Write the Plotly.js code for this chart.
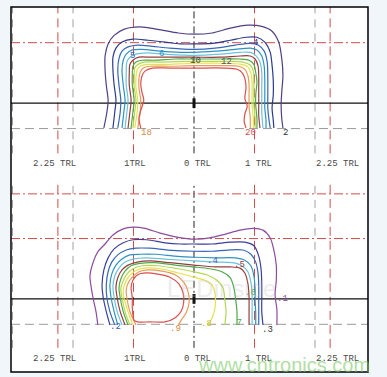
<!DOCTYPE html>
<html><head><meta charset="utf-8">
<script src="https://cdn.plot.ly/plotly-3.0.1.min.js"></script>
<style>html,body{margin:0;padding:0;background:#f1f6fb;}#chart{width:387px;height:377px;}</style>
</head><body><div id="chart"></div>
<script>
// Units: x in TRL (lateral), y in TRL relative to the solid reference line of each panel
const tickLabels = ['2.25 TRL','1TRL','0 TRL','1 TRL','2.25 TRL'];
const tickLabelX = [-2.31,-0.98,0.06,1.07,2.37];
const gridRedX = [-2.25,-1,1,2.25];
const gridGrayX = [-3,-2,2];
const gridCenterX = [0];
const topRedY = [1];
const botRedY = [1.74, 1];
const refY = [0];
const edgeY = [-0.42];

// ---- top panel isolux lines (levels) ----
const topLevels = ['2','4','5','6','8','10','12','14','16','18','20'];
const top1x = [-1.49,-1.44,-1.42,-1.45,-1.47,-1.47,-1.42,-1.32,-1.16,-0.89,-0.60,-0.26,0,0.30,0.60,0.89,1.12,1.29,1.40,1.45,1.47,1.45,1.44,1.45,1.47];
const top1y = [-0.41,-0.15,0.05,0.30,0.55,0.78,0.98,1.12,1.22,1.26,1.22,1.16,1.14,1.16,1.24,1.29,1.27,1.19,1.01,0.74,0.46,0.18,-0.03,-0.25,-0.41];
const top2x = [-1.34,-1.31,-1.29,-1.32,-1.34,-1.34,-1.29,-1.19,-1.01,-0.76,-0.48,-0.23,0,0.30,0.60,0.86,1.04,1.17,1.26,1.29,1.31,1.31,1.29,1.31,1.32];
const top2y = [-0.41,-0.15,0.05,0.30,0.55,0.76,0.91,1.01,1.06,1.04,1.01,0.98,0.98,0.99,1.04,1.09,1.09,1.01,0.84,0.63,0.38,0.13,-0.08,-0.28,-0.41];
const top3x = [-1.26,-1.22,-1.21,-1.24,-1.26,-1.24,-1.19,-1.09,-0.93,-0.69,-0.40,0,0.35,0.68,0.93,1.06,1.16,1.21,1.22,1.22,1.22,1.24,1.26];
const top3y = [-0.41,-0.15,0.05,0.30,0.55,0.74,0.86,0.93,0.96,0.94,0.91,0.89,0.91,0.96,0.99,0.96,0.86,0.68,0.41,0.13,-0.08,-0.28,-0.41];
const top4x = [-1.19,-1.16,-1.14,-1.17,-1.19,-1.17,-1.12,-1.02,-0.86,-0.56,-0.23,0,0.35,0.68,0.93,1.04,1.12,1.16,1.17,1.17,1.17,1.19,1.19];
const top4y = [-0.41,-0.15,0.05,0.30,0.55,0.71,0.81,0.88,0.89,0.86,0.84,0.84,0.86,0.89,0.91,0.88,0.78,0.61,0.38,0.13,-0.08,-0.28,-0.41];
const top5x = [-1.14,-1.11,-1.09,-1.12,-1.12,-1.11,-1.06,-0.96,-0.78,-0.48,0,0.43,0.76,0.93,1.02,1.09,1.12,1.12,1.12,1.12,1.14];
const top5y = [-0.41,-0.15,0.05,0.30,0.51,0.68,0.76,0.81,0.83,0.81,0.79,0.81,0.84,0.84,0.79,0.68,0.51,0.25,0.05,-0.15,-0.41];
const top6x = [-1.09,-1.06,-1.04,-1.07,-1.07,-1.06,-1.01,-0.91,-0.73,-0.40,0,0.43,0.76,0.93,1.01,1.06,1.07,1.07,1.07,1.07,1.09];
const top6y = [-0.41,-0.15,0.05,0.30,0.50,0.64,0.71,0.76,0.76,0.76,0.76,0.76,0.78,0.78,0.73,0.61,0.45,0.21,0,-0.20,-0.41];
const top7x = [-1.04,-1.01,-0.99,-1.02,-1.02,-1.01,-0.96,-0.86,-0.64,-0.31,0,0.43,0.76,0.91,0.99,1.02,1.04,1.02,1.02,1.04,1.04];
const top7y = [-0.41,-0.15,0.05,0.30,0.48,0.61,0.68,0.71,0.71,0.73,0.73,0.73,0.73,0.71,0.64,0.51,0.35,0.13,-0.03,-0.25,-0.41];
const top8x = [-1.01,-0.98,-0.96,-0.99,-0.99,-0.98,-0.93,-0.83,-0.56,0,0.51,0.81,0.93,0.98,0.99,0.99,0.99,1.01,1.01];
const top8y = [-0.41,-0.15,0.05,0.28,0.45,0.58,0.64,0.68,0.68,0.69,0.69,0.68,0.63,0.53,0.35,0.13,-0.03,-0.25,-0.41];
const top9x = [-0.98,-0.94,-0.93,-0.96,-0.96,-0.94,-0.89,-0.78,-0.48,0,0.51,0.78,0.89,0.94,0.96,0.96,0.96,0.98,0.98];
const top9y = [-0.41,-0.15,0.05,0.26,0.43,0.55,0.61,0.64,0.64,0.66,0.66,0.64,0.60,0.50,0.33,0.13,-0.03,-0.25,-0.41];
const top10x = [-0.93,-0.89,-0.88,-0.91,-0.91,-0.89,-0.84,-0.73,-0.40,0,0.51,0.74,0.84,0.89,0.91,0.91,0.91,0.93,0.93];
const top10y = [-0.41,-0.15,0.05,0.25,0.41,0.51,0.58,0.61,0.61,0.62,0.62,0.61,0.56,0.46,0.30,0.12,-0.05,-0.25,-0.41];
const top11x = [-0.88,-0.91,-0.88,-0.83,-0.86,-0.88,-0.86,-0.81,-0.69,-0.40,0,0.51,0.71,0.79,0.84,0.86,0.84,0.88,0.84,0.83,0.86];
const top11y = [-0.41,-0.25,-0.12,0.05,0.18,0.31,0.45,0.53,0.58,0.58,0.58,0.58,0.56,0.51,0.41,0.25,0.08,-0.05,-0.18,-0.31,-0.41];

// ---- bottom panel isolux lines ----
const botLevels = ['.1','.2','.3','.4','.5','.6','.7','.75','.8','.9','1'];
const bot1x = [-1.59,-1.62,-1.67,-1.70,-1.72,-1.67,-1.59,-1.47,-1.34,-1.17,-1.01,-0.81,-0.56,-0.26,0,0.26,0.51,0.76,0.98,1.14,1.26,1.32,1.36,1.36,1.34,1.37,1.37];
const bot1y = [-0.43,-0.21,0.02,0.20,0.38,0.60,0.78,0.91,1.06,1.16,1.19,1.17,1.09,1.02,0.99,1.01,1.07,1.14,1.17,1.14,1.01,0.81,0.56,0.31,0.07,-0.18,-0.43];
const bot2x = [-1.39,-1.45,-1.50,-1.52,-1.49,-1.42,-1.32,-1.17,-1.01,-0.78,-0.48,-0.23,0,0.30,0.60,0.84,0.99,1.07,1.11,1.12,1.12,1.12,1.14];
const bot2y = [-0.43,-0.21,0.02,0.23,0.48,0.68,0.83,0.93,0.98,0.98,0.93,0.91,0.91,0.91,0.94,0.94,0.88,0.71,0.48,0.23,0.02,-0.21,-0.43];
const bot3x = [-1.31,-1.39,-1.44,-1.45,-1.42,-1.36,-1.26,-1.12,-0.96,-0.73,-0.43,0,0.30,0.56,0.81,0.94,1.02,1.06,1.07,1.07,1.07,1.07];
const bot3y = [-0.43,-0.21,0.02,0.23,0.45,0.61,0.73,0.81,0.84,0.84,0.81,0.79,0.79,0.81,0.81,0.74,0.61,0.41,0.18,-0.02,-0.23,-0.43];
const bot4x = [-1.26,-1.32,-1.37,-1.39,-1.36,-1.29,-1.19,-1.06,-0.89,-0.64,-0.31,0,0.35,0.68,0.84,0.94,0.99,1.01,1.01,1.02,1.02];
const bot4y = [-0.43,-0.21,0.02,0.23,0.41,0.56,0.66,0.73,0.74,0.74,0.71,0.69,0.68,0.68,0.64,0.55,0.38,0.15,-0.02,-0.23,-0.43];
const bot5x = [-1.19,-1.27,-1.32,-1.34,-1.31,-1.24,-1.14,-1.01,-0.81,-0.48,0,0.35,0.63,0.79,0.89,0.94,0.96,0.96,0.96];
const bot5y = [-0.43,-0.21,0.02,0.21,0.38,0.51,0.61,0.66,0.68,0.66,0.63,0.61,0.60,0.55,0.45,0.28,0.07,-0.18,-0.43];
const bot6x = [-1.14,-1.22,-1.27,-1.29,-1.26,-1.19,-1.09,-0.94,-0.73,-0.40,0,0.35,0.60,0.76,0.84,0.89,0.91,0.91,0.91];
const bot6y = [-0.43,-0.21,0.02,0.20,0.35,0.48,0.56,0.61,0.63,0.60,0.56,0.53,0.53,0.51,0.43,0.26,0.03,-0.18,-0.43];
const bot7x = [-1.09,-1.17,-1.22,-1.24,-1.21,-1.14,-1.04,-0.89,-0.64,-0.31,0,0.26,0.46,0.60,0.66,0.69,0.71,0.71];
const bot7y = [-0.43,-0.21,0.02,0.18,0.33,0.46,0.55,0.59,0.60,0.56,0.53,0.50,0.45,0.35,0.18,-0.02,-0.21,-0.43];
const bot8x = [-1.06,-1.14,-1.19,-1.21,-1.17,-1.11,-1.01,-0.86,-0.60,-0.26,0,0.21,0.38,0.48,0.51,0.53,0.51];
const bot8y = [-0.43,-0.21,0.02,0.17,0.30,0.41,0.50,0.55,0.55,0.50,0.45,0.40,0.31,0.18,-0.02,-0.21,-0.43];
const bot9x = [-1.01,-1.09,-1.16,-1.17,-1.14,-1.07,-0.98,-0.83,-0.56,-0.26,0,0.18,0.30,0.35,0.35,0.30,0.23];
const bot9y = [-0.43,-0.21,0.02,0.15,0.26,0.38,0.46,0.51,0.50,0.43,0.36,0.31,0.23,0.07,-0.13,-0.31,-0.43];
const bot10x = [-0.96,-1.06,-1.11,-1.12,-1.09,-1.02,-0.91,-0.76,-0.53,-0.31,-0.17,-0.10,-0.08,-0.13,-0.21,-0.26];
const bot10y = [-0.43,-0.21,0.02,0.15,0.26,0.36,0.45,0.48,0.46,0.40,0.28,0.13,-0.05,-0.23,-0.35,-0.43];
const bot11x = [-0.99,-1.02,-1.02,-1.04,-1.01,-0.93,-0.79,-0.60,-0.40,-0.25,-0.18,-0.17,-0.21,-0.31,-0.48,-0.73,-0.93,-0.99];
const bot11y = [-0.35,-0.15,0.02,0.18,0.31,0.40,0.43,0.41,0.36,0.25,0.10,-0.05,-0.20,-0.31,-0.38,-0.38,-0.38,-0.35];

// contour value labels
const topLblText = ['5','6','10','12','4','18','20','2'];
const topLblX = [-1.02,-0.53,0.02,0.53,1.01,-0.79,0.93,1.52];
const topLblY = [0.78,0.81,0.69,0.68,0.99,-0.50,-0.50,-0.50];
const botLblText = ['.1','.2','.9','.8','.7','.3','.4','.5','.6'];
const botLblX = [1.46,-1.29,-0.31,0.21,0.71,1.21,0.30,0.76,0.93];
const botLblY = [0.0,-0.46,-0.50,-0.41,-0.40,-0.51,0.63,0.56,0.10];

// ---- styles ----
const colors = ['#4f3f86','#2b3a8e','#3766b8','#2f92c2','#6cc3dc','#973c3c','#4fa84a','#b3d94f','#e6e24a','#e99a58','#d9504e'];
const botColors = ['#8b4d9d','#3b3f9c','#3766b8','#2f92c2','#6cc3dc','#973c3c','#4fa84a','#b3d94f','#e6e24a','#e99a58','#d9504e'];
const topLblColors = ['#3766b8','#2f92c2','#444','#555','#2b3a8e','#e08a48','#d9504e','#333'];
const botLblColors = ['#8b4d9d','#3766b8','#e08a48','#c8c040','#4fa84a','#333','#3766b8','#973c3c','#4fa84a'];

const topXs = [top1x,top2x,top3x,top4x,top5x,top6x,top7x,top8x,top9x,top10x,top11x];
const topYs = [top1y,top2y,top3y,top4y,top5y,top6y,top7y,top8y,top9y,top10y,top11y];
const botXs = [bot1x,bot2x,bot3x,bot4x,bot5x,bot6x,bot7x,bot8x,bot9x,bot10x,bot11x];
const botYs = [bot1y,bot2y,bot3y,bot4y,bot5y,bot6y,bot7y,bot8y,bot9y,bot10y,bot11y];

const traces = [];
topXs.forEach((xs,i)=>traces.push({type:'scatter',mode:'lines',x:xs,y:topYs[i],name:topLevels[i],
  xaxis:'x',yaxis:'y',line:{color:colors[i],width:1.2,shape:'spline',smoothing:0.8},hoverinfo:'skip'}));
botXs.forEach((xs,i)=>traces.push({type:'scatter',mode:'lines',x:xs,y:botYs[i],name:botLevels[i],
  xaxis:'x2',yaxis:'y2',line:{color:botColors[i],width:1.2,shape:'spline',smoothing:0.8},hoverinfo:'skip'}));
// luminaire position markers
traces.push({type:'scatter',mode:'markers',x:gridCenterX,y:refY,xaxis:'x',yaxis:'y',
  marker:{symbol:'line-ns',size:7,line:{width:3,color:'#111'}},hoverinfo:'skip'});
traces.push({type:'scatter',mode:'markers',x:gridCenterX,y:refY,xaxis:'x2',yaxis:'y2',
  marker:{symbol:'line-ns',size:7,line:{width:3,color:'#111'}},hoverinfo:'skip'});

const XL=-3.025, XR=2.876;
const TOP=[-1.32,1.59], BOT=[-1.21,1.92];
const shapes=[];
function vline(x,color,dash,panel){
  const ax = panel===0?['x','y',-0.83,TOP[1]]:['x2','y2',-0.81,BOT[1]];
  shapes.push({type:'line',xref:ax[0],yref:ax[1],x0:x,x1:x,y0:ax[2],y1:ax[3],layer:'below',
    line:{color:color,width:1,dash:dash}});
}
function hline(y,color,dash,panel,w){
  const ax = panel===0?['x','y']:['x2','y2'];
  shapes.push({type:'line',xref:ax[0],yref:ax[1],x0:XL,x1:XR,y0:y,y1:y,layer:'below',
    line:{color:color,width:w||1,dash:dash}});
}
[0,1].forEach(p=>{
  gridGrayX.forEach(x=>vline(x,'#a0a0a0','8px,6px',p));
  gridRedX.forEach(x=>vline(x,'#d24b4b','9px,5px',p));
  gridCenterX.forEach(x=>vline(x,'#222','7px,3px,2px,3px',p));
  edgeY.forEach(y=>hline(y,'#9a9a9a','9px,5px',p));
  refY.forEach(y=>hline(y,'#111','solid',p,1.2));
});
topRedY.forEach(y=>hline(y,'#d24b4b','9px,3px,2px,3px',0));
botRedY.forEach(y=>hline(y,'#d24b4b','9px,3px,2px,3px',1));
// frame
shapes.push({type:'rect',xref:'paper',yref:'paper',x0:11/387,x1:368/387,y0:5/377,y1:370/377,
  line:{color:'#000',width:1.5},layer:'above'});

const ann=[];
const mono='Liberation Mono, DejaVu Sans Mono, monospace';
[['x','y'],['x2','y2']].forEach(ax=>{
  tickLabels.forEach((t,i)=>ann.push({xref:ax[0],yref:ax[1],x:tickLabelX[i],y:-1.0,text:t,showarrow:false,
    font:{family:mono,size:9,color:'#4a4a4a'}}));
});
topLblText.forEach((t,i)=>ann.push({xref:'x',yref:'y',x:topLblX[i],y:topLblY[i],text:t,showarrow:false,
  font:{family:mono,size:9,color:topLblColors[i]}}));
botLblText.forEach((t,i)=>ann.push({xref:'x2',yref:'y2',x:botLblX[i],y:botLblY[i],text:t,showarrow:false,
  font:{family:mono,size:9,color:botLblColors[i]}}));
ann.push({xref:'x2',yref:'y2',x:0.46,y:0.18,text:'LEDinside',showarrow:false,
  font:{family:'Liberation Sans, Arial, sans-serif',size:24,color:'rgba(190,190,190,0.30)'}});
ann.push({xref:'paper',yref:'paper',x:284/387,y:(377-365)/377,xanchor:'center',yanchor:'middle',text:'www.cntronics.com',showarrow:false,
  font:{family:'Liberation Sans, Arial, sans-serif',size:20,color:'rgba(120,200,100,0.6)'}});

const axX = {domain:[11/387,368/387],range:[XL,XR],showgrid:false,zeroline:false,showticklabels:false,ticks:'',showline:false,fixedrange:true};
const layout = {
  width:387,height:377,margin:{l:0,r:0,t:0,b:0},
  paper_bgcolor:'#f1f6fb',plot_bgcolor:'#ffffff',showlegend:false,
  xaxis:Object.assign({anchor:'y'},axX),
  xaxis2:Object.assign({anchor:'y2'},axX),
  yaxis:{domain:[(377-183)/377,(377-7)/377],range:TOP,showgrid:false,zeroline:false,showticklabels:false,ticks:'',anchor:'x'},
  yaxis2:{domain:[(377-372)/377,(377-183)/377],range:BOT,showgrid:false,zeroline:false,showticklabels:false,ticks:'',anchor:'x2'},
  shapes:shapes,annotations:ann
};
Plotly.newPlot('chart',traces,layout,{staticPlot:true,displayModeBar:false});
</script></body></html>
